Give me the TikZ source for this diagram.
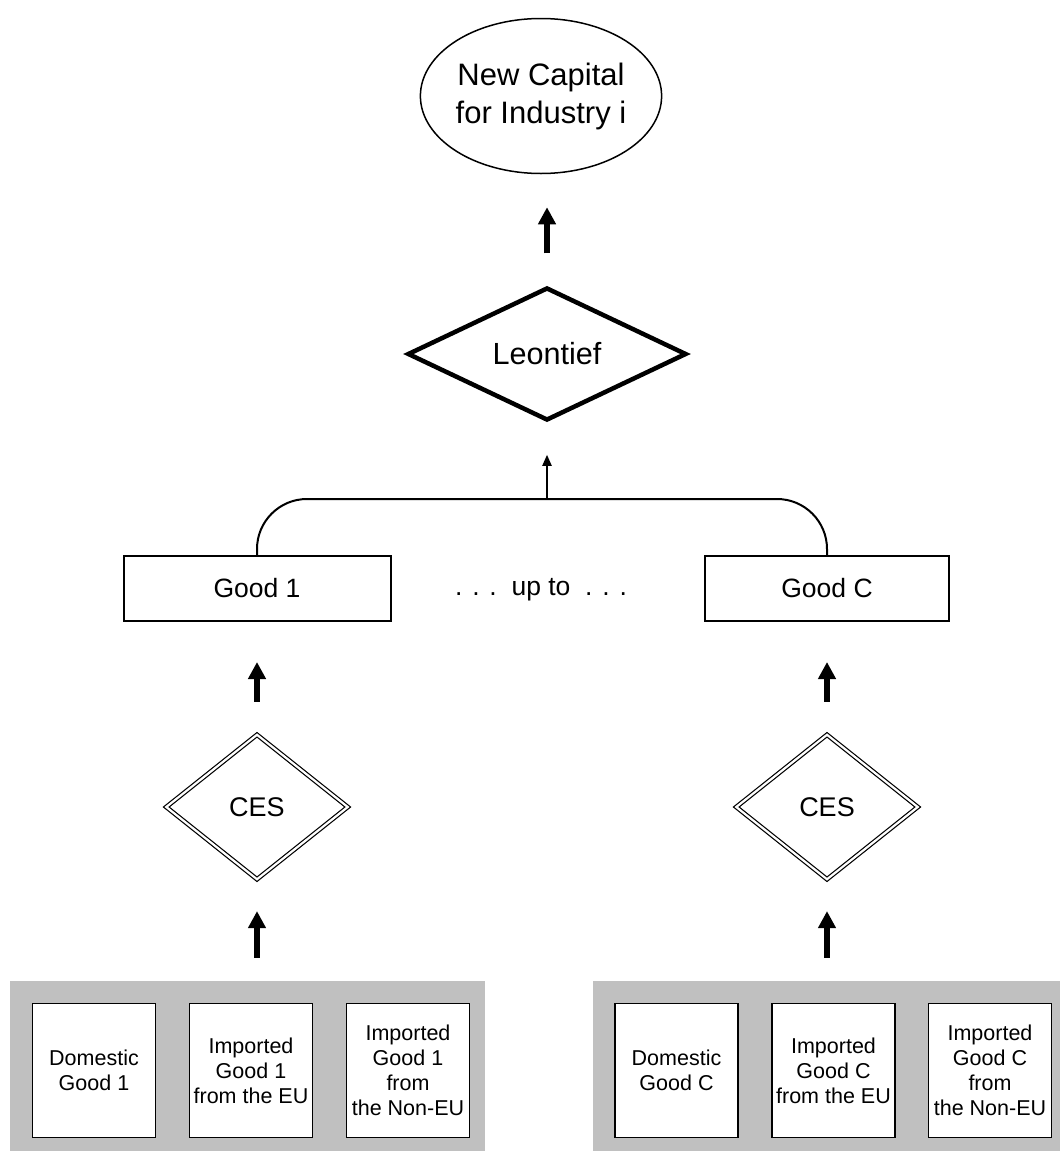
\documentclass[tikz,border=0pt]{standalone}
\usepackage{fontspec}
\setmainfont{Liberation Sans}
\usetikzlibrary{shapes.geometric, arrows.meta}
\definecolor{panelgray}{RGB}{192,192,192}

\begin{document}
\begin{tikzpicture}[x=1pt, y=-1pt,
    good/.style={rectangle, draw, line width=2pt, minimum height=65pt, inner sep=0pt,
                 font=\fontsize{26.5}{32}\selectfont},
    ces/.style={diamond, draw, line width=1.2pt, double, double distance=2.2pt,
                minimum width=182pt, minimum height=145pt, inner sep=0pt, font=\fontsize{27}{32}\selectfont},
    src/.style={rectangle, draw, line width=1.5pt, fill=white, minimum width=123pt, minimum height=134pt,
                align=center, inner sep=0pt, font=\fontsize{21.5}{25}\selectfont},
    panel/.style={rectangle, fill=panelgray, minimum height=170pt, inner sep=0pt},
    bigarr/.style={-{Triangle[length=17pt, width=17pt]}, line width=6pt},
    smallarr/.style={-{Triangle[length=11pt, width=9pt]}, line width=2pt},
  ]
  \useasboundingbox (0,0) rectangle (1060,1151);

  % Top: new capital
  \node[ellipse, draw, line width=1.5pt, minimum width=234pt, minimum height=155pt, align=center,
        inner sep=0pt, font=\fontsize{31}{38}\selectfont] (cap) at (541, 96) {New Capital\\for Industry i};

  % Leontief nest
  \node[diamond, draw, line width=4.5pt, minimum width=279pt, minimum height=133pt, inner sep=0pt,
        font=\fontsize{30.6}{36}\selectfont] (leon) at (547, 354) {Leontief};
  \draw[bigarr, shorten <=32pt, shorten >=33pt] (leon.north) -- (leon.north |- cap.south);

  % Goods
  \node[good, minimum width=267pt] (g1) at (257, 588.5) {Good 1};
  \node[good, minimum width=244pt] (gC) at (827, 588.5) {Good C};
  \node[font=\fontsize{26.5}{32}\selectfont] (upto) at (541, 590) {. . .\ \ up to\ \ . . .};

  \coordinate (join) at (547, 499);
  \draw[line width=2pt, rounded corners=50pt] (g1.north) |- (join) -| (gC.north);
  \draw[smallarr, shorten >=32pt] (join) -- (leon.south);

  % CES nests
  \node[ces] (ces1) at (257, 807) {CES};
  \node[ces] (cesC) at (827, 807) {CES};
  \draw[bigarr, shorten <=32pt, shorten >=40pt] (ces1.north) -- (g1.south);
  \draw[bigarr, shorten <=32pt, shorten >=40pt] (cesC.north) -- (gC.south);

  % Sources of good 1
  \node[panel, minimum width=475pt] (panelL) at (247.5, 1066) {};
  \node[src] (d1) at (94, 1070.5) {Domestic\\Good 1};
  \node[src] (e1) at (251, 1070.5) {Imported\\Good 1\\from the EU};
  \node[src] (n1) at (408, 1070.5) {Imported\\Good 1\\from\\the Non-EU};
  \draw[bigarr, shorten <=23pt, shorten >=31pt] (ces1 |- panelL.north) -- (ces1.south);

  % Sources of good C
  \node[panel, minimum width=467pt] (panelR) at (826.5, 1066) {};
  \node[src] (dC) at (676.5, 1070.5) {Domestic\\Good C};
  \node[src] (eC) at (833.5, 1070.5) {Imported\\Good C\\from the EU};
  \node[src] (nC) at (990, 1070.5) {Imported\\Good C\\from\\the Non-EU};
  \draw[bigarr, shorten <=23pt, shorten >=31pt] (cesC |- panelR.north) -- (cesC.south);

\end{tikzpicture}
\end{document}
